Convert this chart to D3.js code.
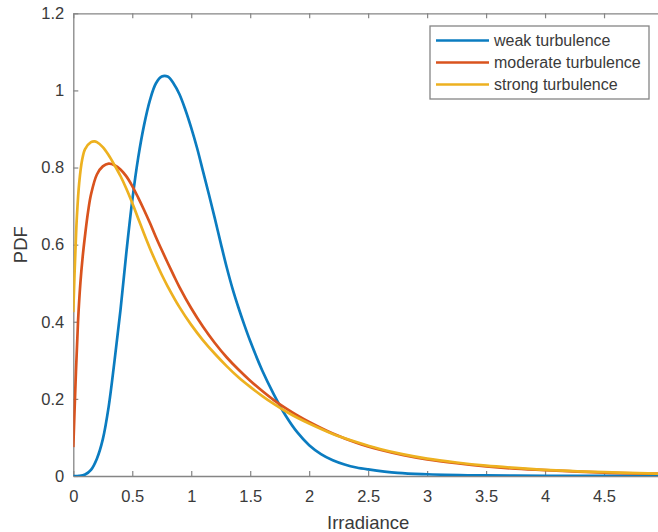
<!DOCTYPE html>
<html>
<head>
<meta charset="utf-8">
<script src="https://cdn.jsdelivr.net/npm/d3@7"></script>
<style>
  html, body { margin: 0; padding: 0; background: #fff; }
  svg { display: block; font-family: "Liberation Sans", Arial, Helvetica, sans-serif; }
</style>
</head>
<body>
<svg id="chart" width="658" height="532"></svg>
<script>
// Irradiance values (x) and PDF values read for each turbulence regime
const weakX = [0, 0.05, 0.1, 0.15, 0.2, 0.25, 0.3, 0.35, 0.4, 0.45, 0.5, 0.55, 0.6, 0.65, 0.7, 0.75, 0.8, 0.85, 0.9, 0.95, 1.0, 1.05, 1.1, 1.15, 1.2, 1.25, 1.3, 1.35, 1.4, 1.45, 1.5, 1.6, 1.7, 1.8, 1.9, 2.0, 2.1, 2.2, 2.3, 2.4, 2.5, 2.75, 3.0, 3.5, 4.0, 4.5, 5.0];
const weakY = [0, 0.0005, 0.004, 0.016, 0.045, 0.095, 0.18, 0.30, 0.43, 0.58, 0.715, 0.825, 0.91, 0.975, 1.018, 1.036, 1.036, 1.018, 0.99, 0.95, 0.903, 0.85, 0.79, 0.73, 0.668, 0.604, 0.542, 0.486, 0.437, 0.392, 0.35, 0.275, 0.212, 0.157, 0.113, 0.08, 0.057, 0.041, 0.03, 0.022, 0.017, 0.008, 0.0045, 0.0015, 0.0005, 0.0002, 0.0001];

const moderateX = [0, 0.02, 0.04, 0.06, 0.08, 0.1, 0.125, 0.15, 0.2, 0.25, 0.3, 0.35, 0.4, 0.45, 0.5, 0.55, 0.6, 0.65, 0.7, 0.75, 0.8, 0.85, 0.9, 1.0, 1.1, 1.2, 1.3, 1.4, 1.5, 1.6, 1.7, 1.8, 1.9, 2.0, 2.2, 2.4, 2.6, 2.8, 3.0, 3.25, 3.5, 3.75, 4.0, 4.5, 5.0];
const moderateY = [0.075, 0.25, 0.40, 0.50, 0.57, 0.625, 0.685, 0.73, 0.782, 0.803, 0.81, 0.806, 0.795, 0.777, 0.752, 0.722, 0.69, 0.656, 0.62, 0.586, 0.553, 0.521, 0.49, 0.435, 0.387, 0.345, 0.308, 0.276, 0.247, 0.221, 0.197, 0.176, 0.157, 0.14, 0.11, 0.086, 0.068, 0.054, 0.043, 0.033, 0.025, 0.019, 0.015, 0.009, 0.006];

const strongX = [0, 0.01, 0.02, 0.03, 0.05, 0.075, 0.1, 0.15, 0.18, 0.2, 0.25, 0.3, 0.35, 0.4, 0.45, 0.5, 0.55, 0.6, 0.65, 0.7, 0.75, 0.8, 0.9, 1.0, 1.1, 1.2, 1.3, 1.4, 1.5, 1.6, 1.7, 1.8, 1.9, 2.0, 2.2, 2.4, 2.6, 2.8, 3.0, 3.25, 3.5, 3.75, 4.0, 4.5, 5.0];
const strongY = [0.425, 0.52, 0.60, 0.67, 0.76, 0.82, 0.848, 0.866, 0.868, 0.866, 0.853, 0.832, 0.806, 0.778, 0.745, 0.708, 0.668, 0.628, 0.59, 0.555, 0.522, 0.492, 0.438, 0.392, 0.352, 0.317, 0.285, 0.256, 0.231, 0.208, 0.187, 0.168, 0.151, 0.136, 0.109, 0.088, 0.07, 0.056, 0.045, 0.035, 0.027, 0.021, 0.016, 0.01, 0.006];

const seriesNames = ["weak turbulence", "moderate turbulence", "strong turbulence"];
const seriesColors = ["#0b7cc0", "#d9531e", "#edb120"];

const xTicks = [0, 0.5, 1, 1.5, 2, 2.5, 3, 3.5, 4, 4.5];
const xTickLabels = ["0", "0.5", "1", "1.5", "2", "2.5", "3", "3.5", "4", "4.5"];
const yTicks = [0, 0.2, 0.4, 0.6, 0.8, 1.0, 1.2];
const yTickLabels = ["0", "0.2", "0.4", "0.6", "0.8", "1", "1.2"];

const xLabel = "Irradiance";
const yLabel = "PDF";

// Axes box (right edge runs past the window edge, at x = 5)
const W = 658, H = 532;
const plotLeft = 73.3, plotRight = 663, plotTop = 13.3, plotBottom = 476;

const x = d3.scaleLinear().domain([0, 5]).range([plotLeft, plotRight]);
const y = d3.scaleLinear().domain([0, 1.2]).range([plotBottom, plotTop]);

const svg = d3.select("#chart");

svg.append("defs").append("clipPath").attr("id", "plotClip")
  .append("rect").attr("x", plotLeft).attr("y", plotTop)
  .attr("width", plotRight - plotLeft).attr("height", plotBottom - plotTop);

const axisColor = "#858585";
const textColor = "#3a3a3a";
const tickFont = 16.5;

function styleAxis(g) {
  g.selectAll(".domain").attr("stroke", axisColor).attr("stroke-width", 1.3);
  g.selectAll(".tick line").attr("stroke", axisColor).attr("stroke-width", 1.2);
  g.selectAll(".tick text").attr("fill", textColor).attr("font-size", tickFont)
    .attr("font-family", "'Liberation Sans', Arial, sans-serif");
}

// Bottom axis with labels, ticks pointing inward
const gx = svg.append("g").attr("transform", `translate(0,${plotBottom})`)
  .call(d3.axisBottom(x).tickValues(xTicks).tickSizeInner(-5).tickSizeOuter(0).tickPadding(14)
    .tickFormat((d, i) => xTickLabels[i]));
styleAxis(gx);

// Left axis with labels
const gy = svg.append("g").attr("transform", `translate(${plotLeft},0)`)
  .call(d3.axisLeft(y).tickValues(yTicks).tickSizeInner(-5).tickSizeOuter(0).tickPadding(9)
    .tickFormat((d, i) => yTickLabels[i]));
styleAxis(gy);

// Top and right box edges with inward ticks
const gt = svg.append("g").attr("transform", `translate(0,${plotTop})`)
  .call(d3.axisTop(x).tickValues(xTicks).tickSizeInner(-5).tickSizeOuter(0).tickFormat(""));
styleAxis(gt);
const gr = svg.append("g").attr("transform", `translate(${plotRight},0)`)
  .call(d3.axisRight(y).tickValues(yTicks).tickSizeInner(-5).tickSizeOuter(0).tickFormat(""));
styleAxis(gr);

// Curves
const seriesData = [
  weakX.map((v, i) => [v, weakY[i]]),
  moderateX.map((v, i) => [v, moderateY[i]]),
  strongX.map((v, i) => [v, strongY[i]])
];

const line = d3.line()
  .x(d => x(d[0]))
  .y(d => y(d[1]))
  .curve(d3.curveCatmullRom.alpha(0.5));

svg.append("g").attr("clip-path", "url(#plotClip)")
  .selectAll("path").data(seriesData).join("path")
  .attr("d", line)
  .attr("fill", "none")
  .attr("stroke", (d, i) => seriesColors[i])
  .attr("stroke-width", 2.7)
  .attr("stroke-linejoin", "round");

// Axis titles
svg.append("text")
  .attr("x", (plotLeft + plotRight) / 2).attr("y", 528.5)
  .attr("text-anchor", "middle")
  .attr("font-size", 18.5).attr("fill", textColor)
  .text(xLabel);

svg.append("text")
  .attr("transform", `translate(27,${(plotTop + plotBottom) / 2}) rotate(-90)`)
  .attr("text-anchor", "middle")
  .attr("font-size", 18.5).attr("fill", textColor)
  .text(yLabel);

// Legend
const lg = svg.append("g");
lg.append("rect")
  .attr("x", 430).attr("y", 26).attr("width", 219).attr("height", 73)
  .attr("fill", "#fff").attr("stroke", axisColor).attr("stroke-width", 1.3);
const rowY = [40.5, 62.5, 84.5];
seriesNames.forEach((name, i) => {
  lg.append("line")
    .attr("x1", 436).attr("x2", 489).attr("y1", rowY[i]).attr("y2", rowY[i])
    .attr("stroke", seriesColors[i]).attr("stroke-width", 2.7);
  lg.append("text")
    .attr("x", 494).attr("y", rowY[i]).attr("dy", "0.35em")
    .attr("font-size", 16).attr("fill", textColor)
    .text(name);
});
</script>
</body>
</html>
